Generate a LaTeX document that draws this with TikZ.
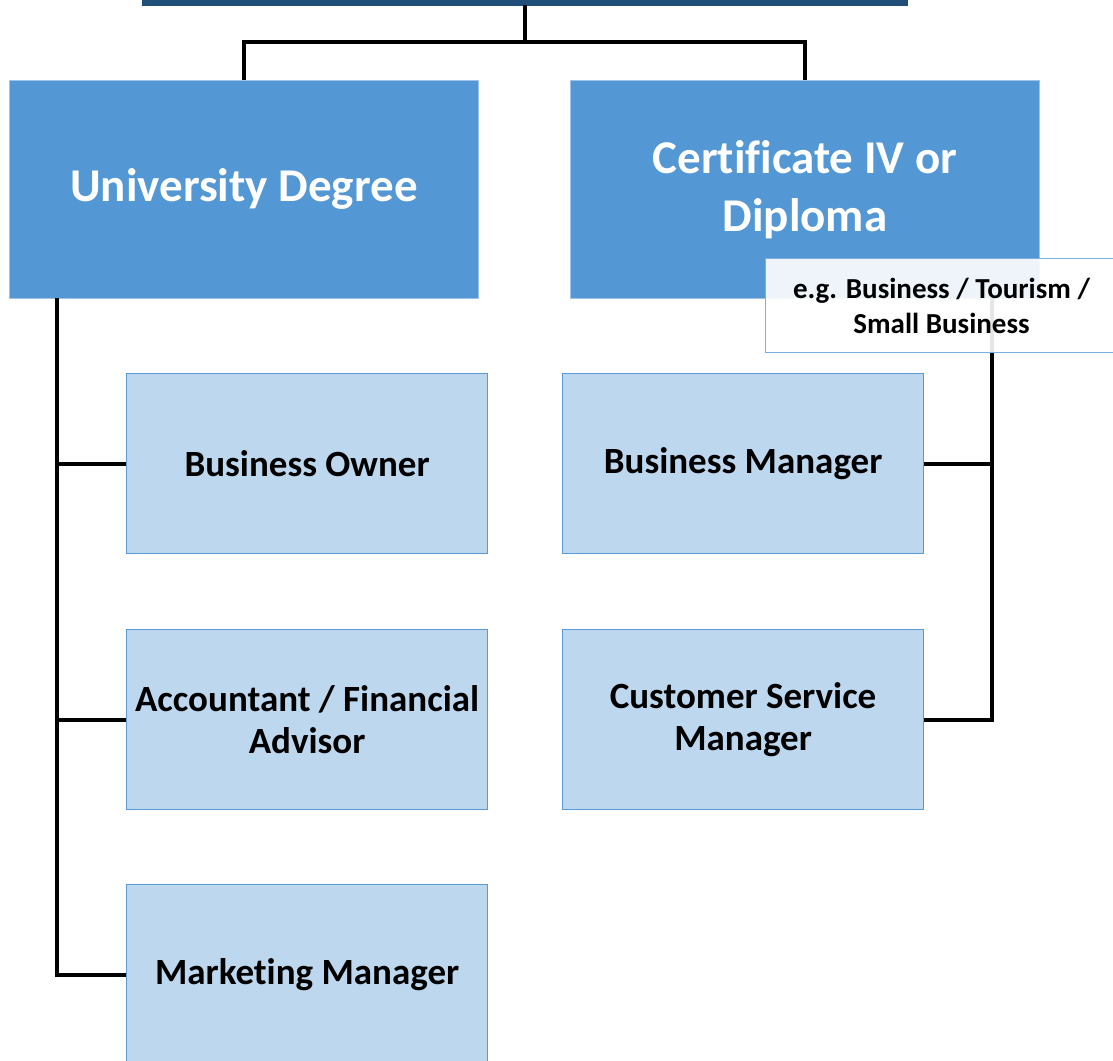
\documentclass[tikz,border=0pt]{standalone}
\usepackage{fontspec}
\setmainfont{Carlito}[Ligatures=NoCommon]
\definecolor{darkblue}{HTML}{1F4E79}
\definecolor{midblue}{HTML}{5397D4}
\definecolor{lightblue}{HTML}{BDD7EE}
\definecolor{edgeblue}{HTML}{5B9BD5}
\begin{document}
\begin{tikzpicture}[x=1pt,y=-1pt,
  topbox/.style={fill=darkblue, draw=darkblue, minimum width=765, minimum height=60, anchor=south west, inner sep=0},
  degbox/.style={fill=midblue, draw=edgeblue!60!white, line width=0.8pt, minimum width=469, minimum height=218, anchor=north west, inner sep=0, text=white, font=\bfseries\fontsize{47}{58}\selectfont, align=center},
  jobbox/.style={fill=lightblue, draw=edgeblue, line width=1.2pt, minimum width=361, minimum height=180, anchor=north west, inner sep=0, font=\bfseries\fontsize{37}{42}\selectfont, align=center},
  notebox/.style={fill=white, fill opacity=0.9, text opacity=1, draw=edgeblue!80!white, line width=1pt, minimum width=352, minimum height=94, anchor=north west, inner sep=0, font=\bfseries\fontsize{29}{35}\selectfont, align=center},
  conn/.style={draw=black, line width=4pt}
]
\useasboundingbox (0,0) rectangle (1113,1060);
\clip (0,0) rectangle (1113,1060);
\fill[white] (0,0) rectangle (1113,1060);

\node[topbox] (top) at (142,5) {};
\node[degbox] (univ) at (9,80) {University Degree};
\node[degbox] (cert) at (570,80) {Certificate IV or\\Diploma};

\node[jobbox] (bo) at (126,373) {Business Owner};
\node[jobbox] (acc) at (126,629) {Accountant / Financial\\Advisor};
\node[jobbox] (mm) at (126,884) {Marketing Manager};
\node[jobbox] (bm) at (562,373) {Business Manager};
\node[jobbox] (csm) at (562,629) {Customer Service\\Manager};

\draw[conn] (top.south) -- ++(0,37) -| (univ.north);
\draw[conn] (top.south) -- ++(0,37) -| (cert.north);

\coordinate (lx) at (57,298);
\draw[conn] (lx) |- (bo.west);
\draw[conn] (lx) |- (acc.west);
\draw[conn] (lx) |- (mm.west);

\coordinate (rx) at (992,298);
\draw[conn] (rx) |- (bm.east);
\draw[conn] (rx) |- (csm.east);

\node[notebox] (note) at (765,258) {e.g. Business / Tourism /\\Small Business};
\end{tikzpicture}
\end{document}
